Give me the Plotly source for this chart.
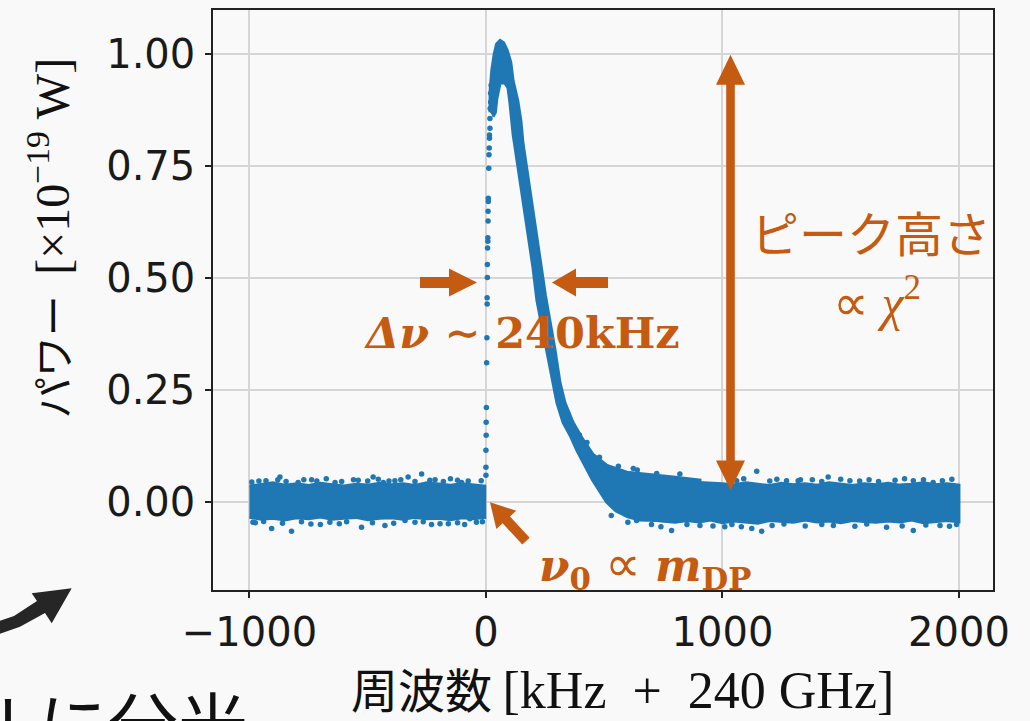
import math
import plotly.graph_objects as go

# ---------------- data ----------------
# baseline noise band left of the resonance: frequency [kHz], upper / lower envelope [1e-19 W]
left_x = [-1000, -950, -900, -850, -800, -750, -700, -650, -600, -550, -500,
          -450, -400, -350, -300, -250, -200, -150, -100, -50, -5]
left_hi = [0.036, 0.040, 0.043, 0.038, 0.041, 0.037, 0.042, 0.039, 0.036, 0.040, 0.038,
           0.042, 0.039, 0.041, 0.037, 0.043, 0.040, 0.038, 0.041, 0.039, 0.036]
left_lo = [-0.034, -0.038, -0.036, -0.040, -0.035, -0.037, -0.033, -0.038, -0.036, -0.034, -0.039,
           -0.036, -0.035, -0.038, -0.034, -0.037, -0.036, -0.039, -0.035, -0.037, -0.034]

# baseline noise band right of the resonance
right_x = [700, 750, 800, 850, 900, 950, 1000, 1050, 1100, 1150, 1200, 1250, 1300, 1350,
           1400, 1450, 1500, 1550, 1600, 1650, 1700, 1750, 1800, 1850, 1900, 1950, 2000]
right_hi = [0.050, 0.048, 0.047, 0.045, 0.044, 0.043, 0.041, 0.039, 0.043, 0.040, 0.037, 0.042,
            0.039, 0.041, 0.038, 0.043, 0.040, 0.037, 0.041, 0.039, 0.042, 0.038, 0.040, 0.043,
            0.039, 0.041, 0.038]
right_lo = [-0.040, -0.043, -0.045, -0.041, -0.044, -0.040, -0.046, -0.042, -0.044, -0.047,
            -0.041, -0.043, -0.045, -0.040, -0.044, -0.042, -0.046, -0.041, -0.043, -0.045,
            -0.042, -0.044, -0.040, -0.046, -0.043, -0.041, -0.044]

# dense resonance peak: outer (upper / right) edge and inner (lower / left) edge
peak_outer_x = [17, 18, 25, 35, 45, 60, 75, 90, 105, 115, 135, 148, 157, 172, 193, 214, 235,
                252, 272, 292, 313, 334, 368, 410, 452, 512, 596, 693, 791, 905]
peak_outer_y = [0.870, 0.920, 0.965, 1.000, 1.022, 1.030, 1.025, 1.008, 0.982, 0.940, 0.895,
                0.850, 0.800, 0.745, 0.671, 0.598, 0.523, 0.460, 0.400, 0.340, 0.267, 0.222,
                0.178, 0.140, 0.107, 0.082, 0.067, 0.062, 0.056, 0.049]
peak_inner_x = [905, 800, 700, 650, 600, 550, 510, 480, 450, 415, 385, 355, 326, 300, 283, 258,
                216, 199, 178, 157, 136, 115, 101, 93, 80, 60, 46, 40, 30]
peak_inner_y = [-0.040, -0.042, -0.040, -0.040, -0.033, -0.020, 0.000, 0.025, 0.050, 0.085,
                0.115, 0.150, 0.178, 0.222, 0.267, 0.338, 0.449, 0.523, 0.598, 0.671, 0.745,
                0.820, 0.893, 0.925, 0.935, 0.935, 0.900, 0.870, 0.860]

# sparse points on the steep rising edge at the resonance frequency
edge_x = [22, 20, 20, 18, 17, 17, 15, 15, 14, 13, 12, 10, 10, 9, 9, 8, 8, 7, 6, 6, 5, 5,
          4, 3, 2, 1, 1, 0, 0, 0]
edge_y = [0.930, 0.912, 0.893, 0.878, 0.856, 0.834, 0.819, 0.812, 0.790, 0.775, 0.745, 0.678,
          0.671, 0.649, 0.627, 0.590, 0.582, 0.567, 0.530, 0.501, 0.456, 0.442, 0.367, 0.311,
          0.211, 0.178, 0.149, 0.116, 0.078, 0.060]

# isolated noise points outside / on the edge of the dense band
out_x = [-871, -794, -737, -638, -477, -434, -385, -329, -272, -237, -103,
         -906, -822, -589, -526, -427, -342, -265, -194, -159, -68, -985, -960, -700, -560, -150, -40,
         820, 1145, 1447, 1271, 1539, 1807, 1891, 722, 623, 427,
         637, 785, 1124, 1166, 1694, 1807, 1920, 905, 1469, 1990, 1330, 1010,
         -990, -930, -880, -845, -770, -715, -675, -610, -540, -500, -455, -410, -360, -300,
         -215, -180, -120, -75, -20,
         -975, -940, -860, -780, -740, -660, -620, -480, -390, -300, -230, -120, -90, -15,
         1060, 1090, 1200, 1230, 1320, 1380, 1420, 1500, 1580, 1620, 1660, 1730, 1770, 1850,
         1930, 1970,
         700, 740, 850, 960, 1040, 1080, 1210, 1260, 1350, 1420, 1560, 1610, 1760, 1860, 1960,
         640, 560, 480, 395, 345, 600, 530]
out_y = [0.056, 0.044, 0.050, 0.044, 0.056, 0.044, 0.048, 0.056, 0.063, 0.049, 0.044,
         -0.059, -0.065, -0.044, -0.056, -0.052, -0.041, -0.044, -0.048, -0.048, -0.037,
         -0.045, 0.047, -0.050, 0.050, 0.052, -0.045,
         0.063, 0.069, 0.056, 0.048, 0.048, 0.048, 0.044, 0.064, 0.075, 0.133,
         -0.041, -0.063, -0.059, -0.065, -0.056, -0.063, -0.052, -0.052, -0.052, -0.050, 0.050, -0.055,
         0.045, 0.048, 0.050, 0.046, 0.050, 0.047, 0.052, 0.046, 0.049, 0.047, 0.051, 0.047,
         0.050, 0.046, 0.050, 0.046, 0.049, 0.047, 0.048,
         -0.046, -0.043, -0.047, -0.044, -0.049, -0.045, -0.048, -0.046, -0.047, -0.045, -0.050,
         -0.046, -0.050, -0.044,
         0.048, 0.052, 0.047, 0.051, 0.048, 0.050, 0.046, 0.051, 0.047, 0.050, 0.046, 0.049,
         0.052, 0.050, 0.048, 0.051,
         -0.050, -0.055, -0.050, -0.053, -0.050, -0.055, -0.052, -0.049, -0.053, -0.050, -0.054,
         -0.049, -0.053, -0.051, -0.054,
         0.072, 0.080, 0.100, 0.150, 0.200, -0.045, -0.030]

x_ticks = [-1000, 0, 1000, 2000]
x_ticktext = ["\u22121000", "0", "1000", "2000"]
y_ticks = [0.0, 0.25, 0.5, 0.75, 1.0]

# ---------------- styling ----------------
BLUE = "#1f77b4"
ORANGE = "#C55A11"
BG = "#f9f9f9"
W, H = 1030, 721
L, R, T, B = 213, 993, 8, 590


def xp(px):
    return (px - L) / (R - L)


def yp(py):
    return (B - py) / (B - T)


def path_of(pts):
    return "M " + " L ".join(f"{xp(x):.5f},{yp(y):.5f}" for x, y in pts) + " Z"


def arrow_pts(tail, tip, shaft_w, head_len, head_w):
    dx, dy = tip[0] - tail[0], tip[1] - tail[1]
    ln = math.hypot(dx, dy)
    ux, uy = dx / ln, dy / ln
    nx, ny = -uy, ux
    bx, by = tip[0] - ux * head_len, tip[1] - uy * head_len
    s, h = shaft_w / 2, head_w / 2
    return [(tail[0] + nx * s, tail[1] + ny * s), (bx + nx * s, by + ny * s),
            (bx + nx * h, by + ny * h), tip, (bx - nx * h, by - ny * h),
            (bx - nx * s, by - ny * s), (tail[0] - nx * s, tail[1] - ny * s)]


fig = go.Figure()

band_style = dict(mode="lines", fill="toself", fillcolor=BLUE,
                  line=dict(color=BLUE, width=3), hoverinfo="skip", showlegend=False)

fig.add_trace(go.Scatter(x=left_x + left_x[::-1], y=left_hi + left_lo[::-1], **band_style))
fig.add_trace(go.Scatter(x=right_x + right_x[::-1], y=right_hi + right_lo[::-1], **band_style))
fig.add_trace(go.Scatter(x=peak_outer_x + peak_inner_x, y=peak_outer_y + peak_inner_y, **band_style))

fig.add_trace(go.Scatter(x=edge_x + out_x, y=edge_y + out_y, mode="markers",
                         marker=dict(color=BLUE, size=5.5, line=dict(width=0)),
                         hoverinfo="skip", showlegend=False))

# ---------------- arrows ----------------
shapes = []


def add_poly(pts, color):
    shapes.append(dict(type="path", xref="paper", yref="paper", path=path_of(pts),
                       fillcolor=color, line=dict(width=0), layer="above"))


add_poly(arrow_pts((420, 281.5), (477, 281.5), 11, 28, 28), ORANGE)
add_poly(arrow_pts((608, 281.5), (552, 281.5), 11, 24, 28), ORANGE)
add_poly(arrow_pts((526, 541), (490, 502), 10, 24, 27), ORANGE)
add_poly([(730.5, 53), (745, 83), (734.8, 83), (734.8, 460), (745, 460), (730.5, 490),
          (716, 460), (726.2, 460), (726.2, 83), (716, 83)], ORANGE)
add_poly([(-6, 623), (14, 616), (37, 601), (31.7, 593.3), (71.7, 588.3), (51.7, 623.3),
          (45, 613), (20, 627), (-6, 636)], "#262626")

# ---------------- texts ----------------
ann = []


def text(s, px, py, size, color, family, xanchor="center", yanchor="middle", angle=0):
    ann.append(dict(text=s, x=xp(px), y=yp(py), xref="paper", yref="paper", showarrow=False,
                    xanchor=xanchor, yanchor=yanchor, textangle=angle,
                    font=dict(size=size, color=color, family=family)))


text("<b><i>\u0394\u03bd</i> \u223c 240kHz</b>", 522, 332, 43, ORANGE, "DejaVu Serif")
text("<b><i>\u03bd</i><sub>0</sub></b> <span style=\"font-family:Liberation Serif;"
     "font-size:50px\">\u221d</span> <b><i>m</i><sub>DP</sub></b>", 645, 566, 44,
     ORANGE, "DejaVu Serif")
text("ピーク高さ", 871, 230, 48, ORANGE, "Noto Sans CJK JP")
text("\u221d <i>\u03c7</i><sup>2</sup>", 877, 298, 50, ORANGE, "Liberation Serif")
text("周波数 <span style=\"font-family:Liberation Serif;font-size:52px\">"
     "[kHz\u2002+\u2002240 GHz]</span>", 622, 688, 47, "#111111", "Noto Sans CJK JP")
text("パワー\u2002<span style=\"font-family:Liberation Serif;font-size:48px\">"
     "[×10<sup>\u221219</sup> W]</span>", 50, 237, 41, "#111111",
     "Noto Sans CJK JP", angle=-90)
text("ルに分光", 250, 722, 70, "#111111", "Noto Sans CJK JP", xanchor="right")

axis_common = dict(showgrid=True, gridcolor="#d6d6d6", gridwidth=2, zeroline=False,
                   showline=True, linecolor="#222222", linewidth=1.5, mirror=True,
                   ticks="outside", ticklen=6, tickwidth=1.5, tickcolor="#222222",
                   tickfont=dict(family="DejaVu Sans", size=40, color="#1a1a1a"))

fig.update_layout(
    width=W, height=H, autosize=False,
    margin=dict(l=L, r=W - R, t=T, b=H - B, pad=0),
    paper_bgcolor=BG, plot_bgcolor=BG,
    xaxis=dict(range=[-1154, 2144], tickvals=x_ticks, ticktext=x_ticktext, **axis_common),
    yaxis=dict(range=[-0.196, 1.098], tickvals=y_ticks, tickformat=".2f",
               ticklabelstandoff=2, **axis_common),
    shapes=shapes, annotations=ann, showlegend=False,
)

fig.write_html("out.html")
